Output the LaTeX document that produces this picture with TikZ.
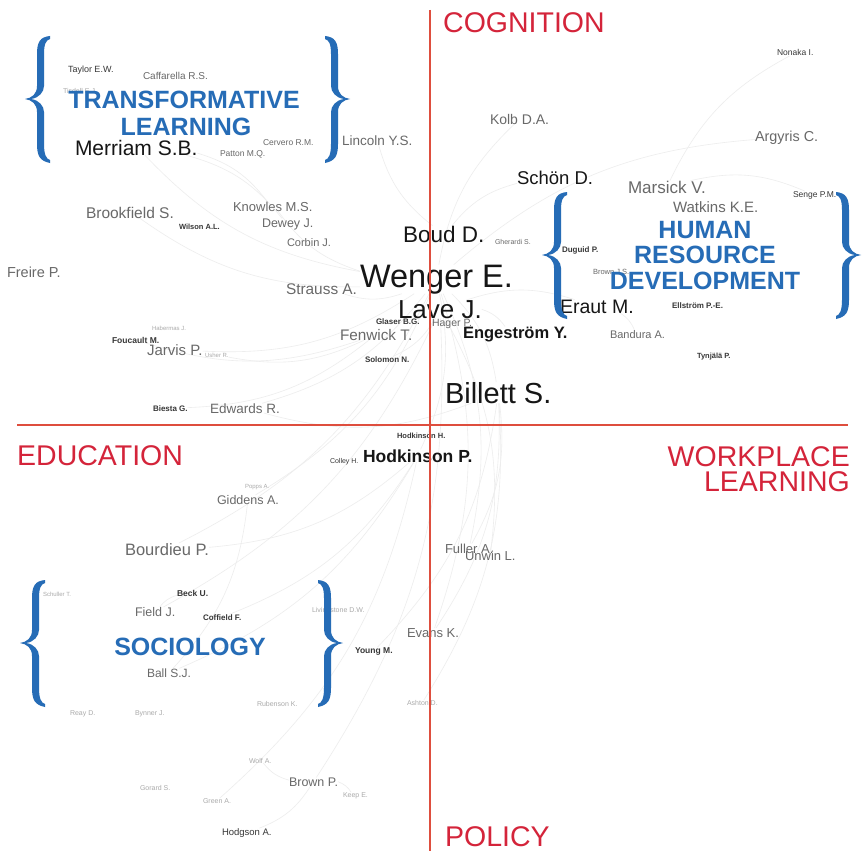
\documentclass[tikz,border=0pt]{standalone}
\usepackage{fontspec}
\setmainfont{Liberation Sans}
\usetikzlibrary{backgrounds}
\definecolor{qred}{RGB}{212,36,58}
\definecolor{qline}{RGB}{222,78,62}
\definecolor{qblue}{RGB}{38,108,182}
\definecolor{gA}{RGB}{22,22,22}
\definecolor{gB}{RGB}{105,105,105}
\definecolor{gC}{RGB}{55,55,55}
\definecolor{gD}{RGB}{170,170,170}
\newcommand\fsz[1]{\fontsize{#1}{#1}\selectfont}
\newcommand\bracepath{(25,0) .. controls (15,1) and (12,6) .. (12,18) -- (12,50) .. controls (12,58) and (7,62) .. (0,63) .. controls (7,64) and (12,68) .. (12,76) -- (12,108) .. controls (12,120) and (15,125) .. (25,127) -- (25,124) .. controls (21,123) and (19,118) .. (19,108) -- (19,76) .. controls (19,70) and (14,64) .. (6,63) .. controls (14,62) and (19,56) .. (19,50) -- (19,18) .. controls (19,8) and (21,4) .. (25,3) -- cycle}
\begin{document}
\begin{tikzpicture}[x=1pt,y=-1pt,
 nm/.style={anchor=base west,inner sep=0pt,outer sep=0pt},
 big/.style={nm,text=gA},
 mid/.style={nm,text=gB},
 smb/.style={nm,text=gC,font=\bfseries\fsz{8}},
 smr/.style={nm,text=gC,font=\fsz{8.5}},
 tiny/.style={nm,text=gD,font=\fsz{7}},
 quad/.style={text=qred,inner sep=0pt,font=\fsz{28.5}},
 grp/.style={text=qblue,inner sep=0pt,anchor=base,font=\bfseries\fsz{25}},
 edge/.style={draw=black!7,line width=0.6pt},
 axis/.style={draw=qline,line width=2pt},
 bracefill/.style={fill=qblue}
]
\useasboundingbox (0,0) rectangle (862,851);

% ---------- names ----------
\node[big,font=\fsz{21}] (merriam) at (75,155) {Merriam S.B.};
\node[big,font=\fsz{22.5}] (boud) at (403,242) {Boud D.};
\node[big,font=\fsz{32.5}] (wenger) at (360,287) {Wenger E.};
\node[big,font=\fsz{26}] (lave) at (398,318) {Lave J.};
\node[big,font=\fsz{29}] (billett) at (445,403) {Billett S.};
\node[big,font=\fsz{19.5}] (eraut) at (560,313) {Eraut M.};
\node[big,font=\fsz{18.5}] (schon) at (517,184) {Schön D.};
\node[big,font=\bfseries\fsz{16.5}] (engestrom) at (463,338) {Engeström Y.};
\node[big,font=\bfseries\fsz{17.5}] (hodkinsonp) at (363,462) {Hodkinson P.};

\node[mid,font=\fsz{13.5}] (lincoln) at (342,145) {Lincoln Y.S.};
\node[mid,font=\fsz{15.5}] (brookfield) at (86,218) {Brookfield S.};
\node[mid,font=\fsz{13}] (knowles) at (233,211) {Knowles M.S.};
\node[mid,font=\fsz{12.5}] (dewey) at (262,227) {Dewey J.};
\node[mid,font=\fsz{11}] (corbin) at (287,246) {Corbin J.};
\node[mid,font=\fsz{14.5}] (freire) at (7,277) {Freire P.};
\node[mid,font=\fsz{15.4}] (strauss) at (286,294) {Strauss A.};
\node[mid,font=\fsz{15}] (jarvis) at (147,355) {Jarvis P.};
\node[mid,font=\fsz{15.3}] (fenwick) at (340,340) {Fenwick T.};
\node[mid,font=\fsz{13.5}] (edwards) at (210,413) {Edwards R.};
\node[mid,font=\fsz{14}] (kolb) at (490,124) {Kolb D.A.};
\node[mid,font=\fsz{14.4}] (argyris) at (755,141) {Argyris C.};
\node[mid,font=\fsz{17}] (marsick) at (628,193) {Marsick V.};
\node[mid,font=\fsz{15}] (watkins) at (673,212) {Watkins K.E.};
\node[mid,font=\fsz{11}] (bandura) at (610,338) {Bandura A.};
\node[mid,font=\fsz{10.5}] (hager) at (432,326) {Hager P.};
\node[mid,font=\fsz{12.5}] (giddens) at (217,504) {Giddens A.};
\node[mid,font=\fsz{16.5}] (bourdieu) at (125,555) {Bourdieu P.};
\node[mid,font=\fsz{12.5}] (field) at (135,616) {Field J.};
\node[mid,font=\fsz{12}] (ball) at (147,677) {Ball S.J.};
\node[mid,font=\fsz{13}] (fuller) at (445,553) {Fuller A.};
\node[mid,font=\fsz{13}] (unwin) at (465,560) {Unwin L.};
\node[mid,font=\fsz{13}] (evans) at (407,637) {Evans K.};
\node[mid,font=\fsz{12.5}] (brownp) at (289,786) {Brown P.};
\node[mid,font=\fsz{10}] (caffarella) at (143,80) {Caffarella R.S.};
\node[mid,font=\fsz{8.5}] (patton) at (220,156) {Patton M.Q.};
\node[mid,font=\fsz{8.5}] (cervero) at (263,145) {Cervero R.M.};
\node[mid,font=\fsz{7}] (gherardi) at (495,244) {Gherardi S.};
\node[mid,font=\fsz{7.5}] (brownjs) at (593,274) {Brown J.S.};

\node[smr,font=\fsz{9}] (taylor) at (68,73) {Taylor E.W.};
\node[smr] (nonaka) at (777,56) {Nonaka I.};
\node[smr] (senge) at (793,197) {Senge P.M.};
\node[smr,font=\fsz{7}] (colley) at (330,463) {Colley H.};
\node[smr,font=\fsz{9.5}] (hodgson) at (222,835) {Hodgson A.};

\node[smb,font=\bfseries\fsz{7.5}] (wilson) at (179,229) {Wilson A.L.};
\node[smb,font=\bfseries\fsz{8.5}] (foucault) at (112,343) {Foucault M.};
\node[smb] (glaser) at (376,324) {Glaser B.G.};
\node[smb] (solomon) at (365,362) {Solomon N.};
\node[smb] (biesta) at (153,411) {Biesta G.};
\node[smb] (duguid) at (562,252) {Duguid P.};
\node[smb] (ellstrom) at (672,308) {Ellström P.-E.};
\node[smb,font=\bfseries\fsz{7.5}] (tynjala) at (697,358) {Tynjälä P.};
\node[smb,font=\bfseries\fsz{7.5}] (hodkinsonh) at (397,438) {Hodkinson H.};
\node[smb,font=\bfseries\fsz{8.5}] (beck) at (177,596) {Beck U.};
\node[smb] (coffield) at (203,620) {Coffield F.};
\node[smb,font=\bfseries\fsz{8.5}] (young) at (355,653) {Young M.};

\node[tiny] (tisdell) at (63,93) {Tisdell E.J.};
\node[tiny,font=\fsz{6}] (habermas) at (152,330) {Habermas J.};
\node[tiny,font=\fsz{6}] (usher) at (205,357) {Usher R.};
\node[tiny,font=\fsz{6}] (popps) at (245,488) {Popps A.};
\node[tiny,font=\fsz{6}] (schuller) at (43,596) {Schuller T.};
\node[tiny] (livingstone) at (312,612) {Livingstone D.W.};
\node[tiny] (reay) at (70,715) {Reay D.};
\node[tiny] (bynner) at (135,715) {Bynner J.};
\node[tiny] (rubenson) at (257,706) {Rubenson K.};
\node[tiny] (ashton) at (407,705) {Ashton D.};
\node[tiny] (wolf) at (249,763) {Wolf A.};
\node[tiny] (gorard) at (140,790) {Gorard S.};
\node[tiny] (keep) at (343,797) {Keep E.};
\node[tiny] (green) at (203,803) {Green A.};

% ---------- faint network edges ----------
\begin{scope}[on background layer]
\fill[white] (0,0) rectangle (862,851);
\foreach \a/\b in {wenger/brookfield, wenger/knowles, wenger/jarvis, wenger/edwards,
  wenger/kolb, wenger/argyris, wenger/billett, wenger/hodkinsonp, wenger/fuller,
  wenger/evans, wenger/giddens, wenger/bourdieu, wenger/strauss, wenger/merriam,
  lave/engestrom, lave/eraut, lave/solomon, lave/unwin, lave/field, lave/brownp,
  billett/fuller, billett/evans, billett/young, billett/ashton, billett/edwards,
  hodkinsonp/bourdieu, hodkinsonp/ball, hodkinsonp/coffield, hodkinsonp/green,
  fenwick/biesta, fenwick/foucault, fenwick/usher, boud/schon, boud/lincoln,
  brownp/hodgson, brownp/wolf, brownp/keep, field/beck, giddens/ball,
  merriam/knowles, merriam/dewey, marsick/nonaka, marsick/senge, eraut/bandura}
  \draw[edge] (\a) to[bend left=18] (\b);
\end{scope}

% ---------- quadrant axes ----------
\draw[axis] (430,10) -- (430,851);
\draw[axis] (17,425) -- (848,425);
\node[quad,anchor=base west] (cog) at (443,33) {COGNITION};
\node[quad,anchor=base west] (edu) at (17,465) {EDUCATION};
\node[quad,anchor=base east] (work) at (850,466) {WORKPLACE};
\node[quad,anchor=base east] (learn) at (850,491) {LEARNING};
\node[quad,anchor=base west] (pol) at (445,846) {POLICY};

% ---------- groups ----------
\node[grp] (tl1) at (184,108) {TRANSFORMATIVE};
\node[grp] (tl2) at (186,135) {LEARNING};
\begin{scope}[shift={(25,36)}]\fill[bracefill] \bracepath;\end{scope}
\begin{scope}[shift={(350,36)},xscale=-1]\fill[bracefill] \bracepath;\end{scope}

\node[grp] (hrd1) at (705,238) {HUMAN};
\node[grp] (hrd2) at (705,263) {RESOURCE};
\node[grp] (hrd3) at (705,289) {DEVELOPMENT};
\begin{scope}[shift={(542,192)}]\fill[bracefill] \bracepath;\end{scope}
\begin{scope}[shift={(861,192)},xscale=-1]\fill[bracefill] \bracepath;\end{scope}

\node[grp] (soc) at (190,655) {SOCIOLOGY};
\begin{scope}[shift={(20,580)}]\fill[bracefill] \bracepath;\end{scope}
\begin{scope}[shift={(343,580)},xscale=-1]\fill[bracefill] \bracepath;\end{scope}
\end{tikzpicture}
\end{document}
